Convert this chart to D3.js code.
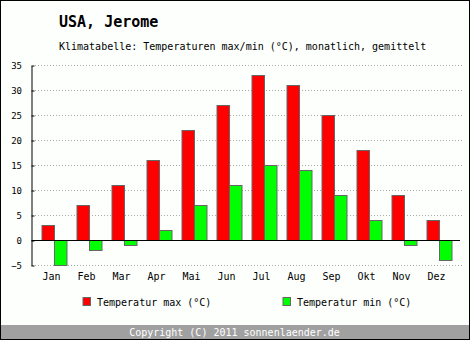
<!DOCTYPE html>
<html>
<head>
<meta charset="utf-8">
<script src="https://cdn.jsdelivr.net/npm/d3@7"></script>
<style>
  html, body { margin: 0; padding: 0; background: #fff; }
  svg { display: block; }
  text { font-family: "DejaVu Sans Mono", "Liberation Mono", monospace; }
</style>
</head>
<body>
<svg id="chart" width="470" height="340"></svg>
<script>
// Monthly mean temperatures, Jerome (USA)
const months = ["Jan", "Feb", "Mar", "Apr", "Mai", "Jun", "Jul", "Aug", "Sep", "Okt", "Nov", "Dez"];
const tempMax = [3, 7, 11, 16, 22, 27, 33, 31, 25, 18, 9, 4];
const tempMin = [-5, -2, -1, 2, 7, 11, 15, 14, 9, 4, -1, -4];
const yTicks = [-5, 0, 5, 10, 15, 20, 25, 30, 35];
const seriesNames = ["Temperatur max (°C)", "Temperatur min (°C)"];
const seriesColors = ["#ff0000", "#00ff00"];

const svg = d3.select("#chart");
const W = 470, H = 340;

// background and frame
svg.append("rect").attr("x", 0).attr("y", 0).attr("width", W).attr("height", H).attr("fill", "#fcfffc");

// title block
svg.append("text").attr("x", 59).attr("y", 27)
  .attr("font-size", 15).attr("font-weight", "bold").attr("fill", "#000")
  .text("USA, Jerome");
svg.append("text").attr("x", 59).attr("y", 50)
  .attr("font-size", 10).attr("fill", "#000")
  .text("Klimatabelle: Temperaturen max/min (°C), monatlich, gemittelt");

// scales
const x = d3.scaleBand().domain(months).range([32, 452]).padding(0);
const y = d3.scaleLinear().domain([-5, 35]).range([265.5, 65.5]);
const axisX = 31.5;

// dotted grid
svg.append("g").selectAll("line").data(yTicks.filter(d => d !== 0)).join("line")
  .attr("x1", 35).attr("x2", 462)
  .attr("y1", d => y(d)).attr("y2", d => y(d))
  .attr("stroke", "#aaaaaa").attr("stroke-width", 1)
  .attr("stroke-dasharray", "1,2");

// bars
const barW = 12.5;
const bars = svg.append("g");
bars.selectAll("rect.max").data(months).join("rect")
  .attr("class", "max")
  .attr("x", (m) => x(m) + 10)
  .attr("width", barW)
  .attr("y", (m, i) => y(Math.max(0, tempMax[i])))
  .attr("height", (m, i) => Math.abs(y(tempMax[i]) - y(0)))
  .attr("fill", seriesColors[0]).attr("stroke", "#666").attr("stroke-width", 1);
bars.selectAll("rect.min").data(months).join("rect")
  .attr("class", "min")
  .attr("x", (m) => x(m) + 10 + barW)
  .attr("width", barW)
  .attr("y", (m, i) => y(Math.max(0, tempMin[i])))
  .attr("height", (m, i) => Math.abs(y(tempMin[i]) - y(0)))
  .attr("fill", seriesColors[1]).attr("stroke", "#666").attr("stroke-width", 1);

// zero line
svg.append("line").attr("x1", axisX).attr("x2", 460)
  .attr("y1", y(0)).attr("y2", y(0))
  .attr("stroke", "#000").attr("stroke-width", 1.2);

// y axis
const gy = svg.append("g").attr("transform", `translate(${axisX},0)`)
  .call(d3.axisLeft(y).tickValues(yTicks).tickSize(3).tickPadding(6.5).tickSizeOuter(0));
gy.select(".domain").attr("stroke", "#000");
gy.selectAll(".tick line").attr("x2", 3).attr("stroke", "#000");
gy.selectAll(".tick text").attr("font-family", "DejaVu Sans, sans-serif").attr("font-size", 9).attr("fill", "#000");

// x axis labels
const gx = svg.append("g").attr("transform", `translate(2,${y(-5) + 3})`)
  .call(d3.axisBottom(x).tickSize(0).tickPadding(4));
gx.select(".domain").remove();
gx.selectAll(".tick text").attr("font-family", "DejaVu Sans Mono, monospace").attr("font-size", 10).attr("fill", "#000");

// legend
const legendX = [83, 283];
const lg = svg.append("g").selectAll("g").data(seriesNames).join("g")
  .attr("transform", (d, i) => `translate(${legendX[i]},297.5)`);
lg.append("rect").attr("width", 7.5).attr("height", 8)
  .attr("fill", (d, i) => seriesColors[i]).attr("stroke", "#666").attr("stroke-width", 1);
lg.append("text").attr("x", 14).attr("y", 8).attr("font-size", 10).attr("fill", "#000").text(d => d);

// footer
svg.append("rect").attr("x", 1).attr("y", 325).attr("width", 468).attr("height", 14).attr("fill", "#a0a0a0");
svg.append("text").attr("x", 234.5).attr("y", 335.5).attr("text-anchor", "middle")
  .attr("font-size", 10).attr("fill", "#fff")
  .text("Copyright (C) 2011 sonnenlaender.de");

// frame
svg.append("rect").attr("x", 0.5).attr("y", 0.5).attr("width", W - 1).attr("height", H - 1)
  .attr("fill", "none").attr("stroke", "#000").attr("stroke-width", 1);
</script>
</body>
</html>
